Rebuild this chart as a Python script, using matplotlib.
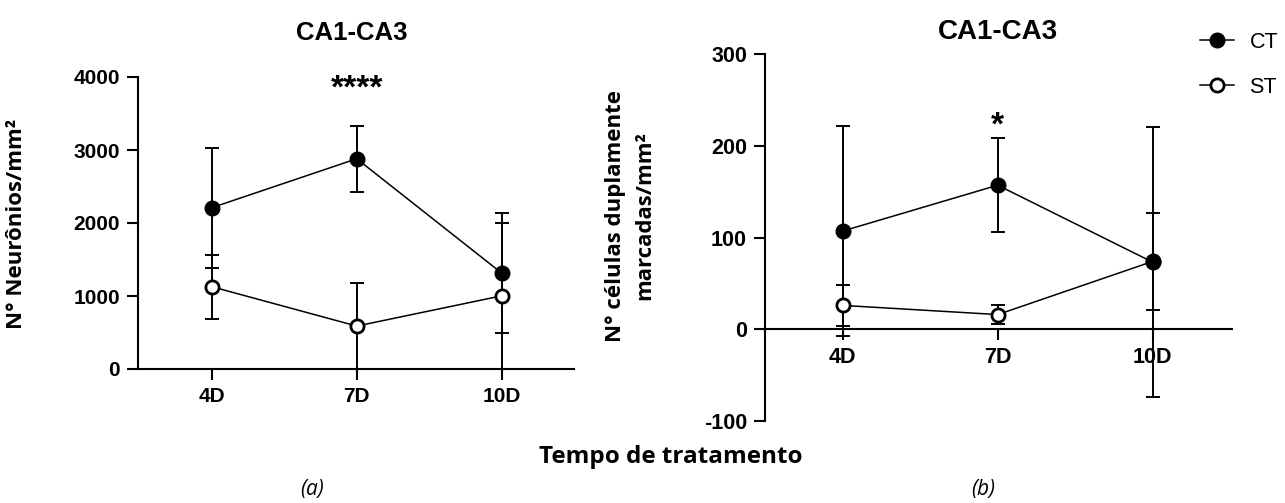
import matplotlib.pyplot as plt

# time points
groups = ['4D', '7D', '10D']

# (a) neurons per mm2
neu_ct = [2210, 2880, 1315]
neu_ct_err = [820, 450, 828]
neu_st = [1127, 588, 1002]
neu_st_err = [437, 590, 1000]

# (b) double-labelled cells per mm2
dup_ct = [107, 157, 73]
dup_ct_err = [114, 51, 147]
dup_st = [26, 16, 74]
dup_st_err = [22, 10, 53]

W, H = 1285, 503
SANS = ['Liberation Sans', 'DejaVu Sans']
HUMANIST = ['Open Sans', 'DejaVu Sans']

plt.rcParams['font.family'] = SANS
plt.rcParams['font.weight'] = 'bold'
plt.rcParams['axes.unicode_minus'] = False


def px_axes(fig, x0, y0, x1, y1):
    # rectangle given in pixels from the top-left corner
    return fig.add_axes([x0 / W, 1 - y1 / H, (x1 - x0) / W, (y1 - y0) / H])


def fig_text(fig, x, y, s, **kw):
    return fig.text(x / W, 1 - y / H, s, ha='center', va='center', **kw)


def draw_series(ax, x, ct, ct_err, st, st_err):
    eb = dict(color='black', elinewidth=1.4, capsize=5, capthick=1.4, zorder=2)
    ax.errorbar(x, st, yerr=st_err, fmt='none', **eb)
    ax.errorbar(x, ct, yerr=ct_err, fmt='none', **eb)
    ax.plot(x, st, color='black', lw=1.1, marker='o', ms=9.5, mfc='white',
            mec='black', mew=2, zorder=3, label='ST')
    ax.plot(x, ct, color='black', lw=1.1, marker='o', ms=10.5, mfc='black',
            mec='black', zorder=4, label='CT')


def style_axes(ax, size):
    for side in ('top', 'right'):
        ax.spines[side].set_visible(False)
    for side in ('left', 'bottom'):
        ax.spines[side].set_linewidth(1.5)
    ax.tick_params(width=1.5, length=8, labelsize=size, pad=5)
    for lab in ax.get_xticklabels() + ax.get_yticklabels():
        lab.set_fontweight('bold')


fig = plt.figure(figsize=(W / 100, H / 100), dpi=100)
x = list(range(len(groups)))

# ---------- panel (a) ----------
ax1 = px_axes(fig, 138, 77, 574, 369)
draw_series(ax1, x, neu_ct, neu_ct_err, neu_st, neu_st_err)
ax1.set_xlim(-0.51, 2.5)
ax1.set_ylim(0, 4000)
ax1.set_yticks([0, 1000, 2000, 3000, 4000])
ax1.set_xticks(x)
ax1.set_xticklabels(groups)
style_axes(ax1, 15)
ax1.text(1, 3830, '****', ha='center', va='center', fontsize=24, fontweight='bold')
fig_text(fig, 352, 33, 'CA1-CA3', fontsize=18.5, fontweight='bold')
fig_text(fig, 17, 224, 'N° Neurônios/mm²', rotation=90, fontsize=16,
         fontweight='bold', family=HUMANIST)

# ---------- panel (b) ----------
ax2 = px_axes(fig, 765, 54, 1232, 421)
draw_series(ax2, x, dup_ct, dup_ct_err, dup_st, dup_st_err)
ax2.set_xlim(-0.5, 2.51)
ax2.set_ylim(-100, 300)
ax2.set_yticks([-100, 0, 100, 200, 300])
ax2.set_xticks(x)
ax2.set_xticklabels(groups)
ax2.spines['bottom'].set_position(('data', 0))
style_axes(ax2, 15.5)
ax2.text(1, 222, '*', ha='center', va='center', fontsize=24, fontweight='bold')
fig_text(fig, 998, 32, 'CA1-CA3', fontsize=20, fontweight='bold')
fig_text(fig, 630, 216, 'N° células duplamente\nmarcadas/mm²', rotation=90,
         fontsize=16, fontweight='bold', family=HUMANIST, linespacing=1.55)

handles, labels = ax2.get_legend_handles_labels()
fig.legend(handles[::-1], labels[::-1], loc='upper left',
           bbox_to_anchor=(1200 / W, 1 - 32 / H), frameon=False,
           prop={'family': SANS, 'size': 15.5, 'weight': 'normal'},
           handlelength=1.6, labelspacing=1.1, handletextpad=0.7,
           borderpad=0, borderaxespad=0)

fig_text(fig, 671, 457, 'Tempo de tratamento', fontsize=17.5, fontweight='bold',
         family=HUMANIST)
fig_text(fig, 312, 490, '(a)', fontsize=15, fontstyle='italic',
         fontweight='normal', family=HUMANIST)
fig_text(fig, 983, 490, '(b)', fontsize=15, fontstyle='italic',
         fontweight='normal', family=HUMANIST)

fig.savefig('out.png', dpi=100)
